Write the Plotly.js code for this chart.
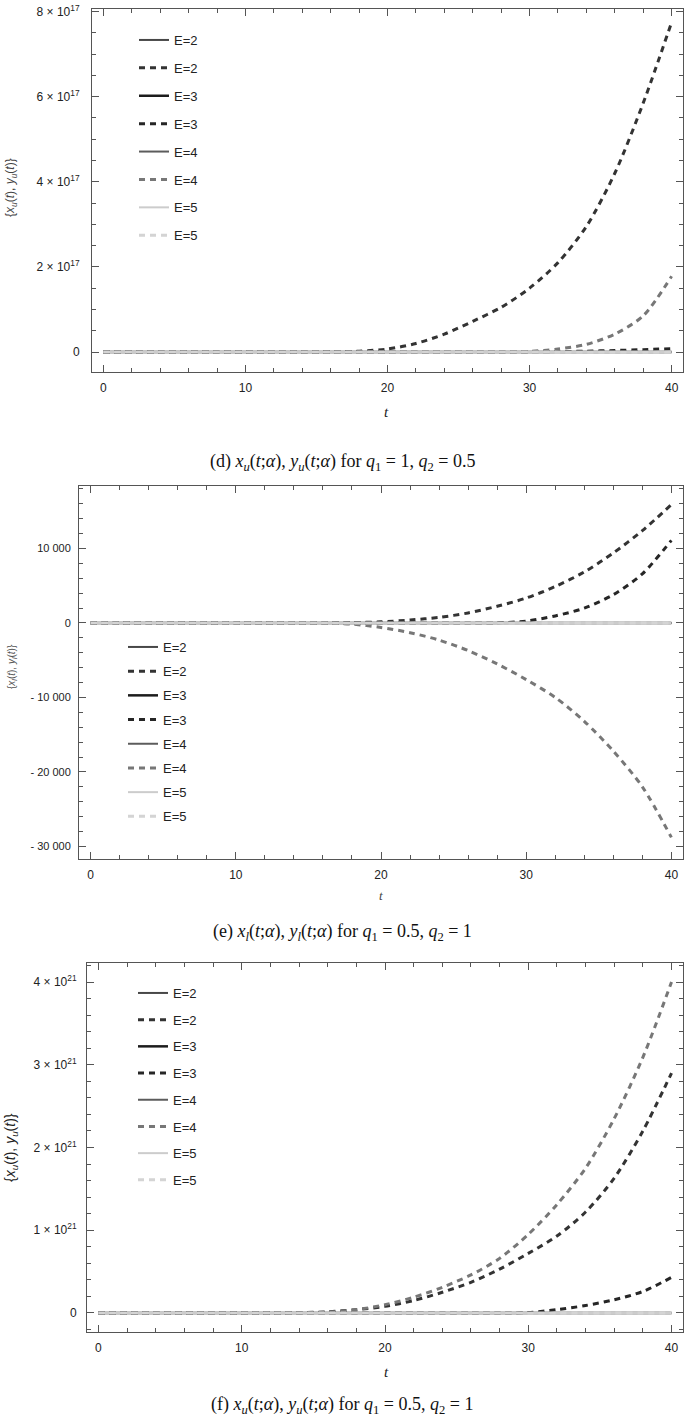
<!DOCTYPE html>
<html>
<head>
<meta charset="utf-8">
<script src="https://cdn.plot.ly/plotly-3.0.1.min.js"></script>
<style>body{margin:0;background:#fff}</style>
</head>
<body>
<div id="graph-container" style="width:685px;height:1417px"></div>
<script>
// time samples (t axis)
const tValues = [0, 2, 4, 6, 8, 10, 12, 14, 16, 18, 20, 22, 24, 26, 28, 30, 32, 34, 36, 38, 40];
const zeroLine = [0, 0, 0, 0, 0, 0, 0, 0, 0, 0, 0, 0, 0, 0, 0, 0, 0, 0, 0, 0, 0];

// (d) values in units of 1e17
const dE2dash = [0, 0, 0, 0, 0, 0, 0, 0, 0.005, 0.02, 0.07, 0.2, 0.42, 0.72, 1.05, 1.5, 2.1, 2.95, 4.2, 5.85, 7.75];
const dE3dash = [0, 0, 0, 0, 0, 0, 0, 0, 0, 0, 0, 0, 0, 0, 0, 0.003, 0.01, 0.02, 0.035, 0.055, 0.08];
const dE4dash = [0, 0, 0, 0, 0, 0, 0, 0, 0, 0, 0, 0, 0, 0, 0, 0.015, 0.07, 0.18, 0.42, 0.85, 1.78];

// (e) values
const eE2dash = [0, 0, 0, 0, 0, 0, 0, 0, 0, 60, 150, 400, 750, 1350, 2250, 3350, 4900, 6850, 9400, 12400, 15900];
const eE3dash = [0, 0, 0, 0, 0, 0, 0, 0, 0, 0, 0, 0, 0, 0, 20, 250, 950, 2000, 3800, 6600, 11100];
const eE4dash = [0, 0, 0, 0, 0, 0, 0, 0, 0, -150, -600, -1300, -2300, -3700, -5500, -7600, -10000, -13200, -17200, -22000, -28800];

// (f) values in units of 1e21
const fE2dash = [0, 0, 0, 0, 0, 0, 0, 0.003, 0.015, 0.04, 0.08, 0.15, 0.25, 0.37, 0.53, 0.72, 0.93, 1.22, 1.63, 2.2, 2.9];
const fE3dash = [0, 0, 0, 0, 0, 0, 0, 0, 0, 0, 0, 0, 0, 0, 0, 0.005, 0.04, 0.09, 0.16, 0.26, 0.43];
const fE4dash = [0, 0, 0, 0, 0, 0, 0, 0, 0.01, 0.04, 0.1, 0.19, 0.31, 0.46, 0.66, 0.95, 1.31, 1.75, 2.35, 3.09, 4.0];

// legend entries, shared by all three panels
const seriesNames = ['E=2', 'E=2', 'E=3', 'E=3', 'E=4', 'E=4', 'E=5', 'E=5'];
const seriesColors = ['#474747', '#333333', '#1c1c1c', '#262626', '#5c5c5c', '#777777', '#cccccc', '#d4d4d4'];
const seriesDashed = [false, true, false, true, false, true, false, true];

// tick labels
const dTickVals = [0, 2, 4, 6, 8];
const dTickText = ['0', '2 × 10<sup>17</sup>', '4 × 10<sup>17</sup>', '6 × 10<sup>17</sup>', '8 × 10<sup>17</sup>'];
const eTickVals = [-30000, -20000, -10000, 0, 10000];
const eTickText = ['- 30 000', '- 20 000', '- 10 000', '0', '10 000'];
const fTickVals = [0, 1, 2, 3, 4];
const fTickText = ['0', '1 × 10<sup>21</sup>', '2 × 10<sup>21</sup>', '3 × 10<sup>21</sup>', '4 × 10<sup>21</sup>'];
const xTickVals = [0, 10, 20, 30, 40];

const W = 685, H = 1417;
const px = x => x / W;
const py = y => 1 - y / H;

const panels = [
    { id: '', legend: 'legend', series: [zeroLine, dE2dash, zeroLine, dE3dash, zeroLine, dE4dash, zeroLine, zeroLine] },
    { id: '2', legend: 'legend2', series: [zeroLine, eE2dash, zeroLine, eE3dash, zeroLine, eE4dash, zeroLine, zeroLine] },
    { id: '3', legend: 'legend3', series: [zeroLine, fE2dash, zeroLine, fE3dash, zeroLine, fE4dash, zeroLine, zeroLine] }
];

const traces = [];
panels.forEach((panel, p) => {
    panel.series.forEach((ys, i) => {
        traces.push({
            x: tValues,
            y: ys,
            type: 'scatter',
            mode: 'lines',
            name: seriesNames[i],
            xaxis: 'x' + panel.id,
            yaxis: 'y' + panel.id,
            legend: panel.legend,
            legendgroup: 'p' + p + 's' + i,
            line: {
                color: seriesColors[i],
                width: seriesDashed[i] ? 3 : (i === 2 ? 2.5 : 2),
                dash: seriesDashed[i] ? '6px,5px' : 'solid',
                shape: 'spline',
                smoothing: 0.8
            },
            hoverinfo: 'skip'
        });
    });
});

const tickFont = { family: 'Liberation Sans, Arial, sans-serif', size: 12, color: '#222' };

function frameAxis(extra) {
    return Object.assign({
        showline: true,
        linecolor: '#555',
        linewidth: 1,
        mirror: 'ticks',
        ticks: 'inside',
        ticklen: 7,
        tickwidth: 1,
        tickcolor: '#555',
        showgrid: false,
        zeroline: false,
        tickfont: tickFont,
        fixedrange: true
    }, extra);
}

function xAxis(domain, anchor) {
    return frameAxis({
        domain: domain,
        anchor: anchor,
        range: [-0.8, 40.8],
        tickmode: 'array',
        tickvals: xTickVals,
        ticklabelstandoff: 5,
        minor: { tickmode: 'linear', tick0: 0, dtick: 2, ticks: 'inside', ticklen: 4, tickcolor: '#555', showgrid: false }
    });
}

function yAxis(domain, anchor, range, vals, text, minorStep, size, standoff) {
    return frameAxis({
        domain: domain,
        anchor: anchor,
        range: range,
        tickmode: 'array',
        tickvals: vals,
        ticktext: text,
        ticklabelstandoff: standoff,
        tickfont: Object.assign({}, tickFont, { size: size }),
        minor: { tickmode: 'linear', tick0: 0, dtick: minorStep, ticks: 'inside', ticklen: 4, tickcolor: '#555', showgrid: false }
    });
}

function legendBox(x, y, gap) {
    return {
        x: px(x),
        y: py(y),
        xanchor: 'left',
        yanchor: 'top',
        bgcolor: 'rgba(0,0,0,0)',
        borderwidth: 0,
        traceorder: 'grouped',
        tracegroupgap: gap,
        font: { family: 'Liberation Sans, Arial, sans-serif', size: 13, color: '#222' },
        itemclick: false,
        itemdoubleclick: false
    };
}

const serif = 'Liberation Serif, Times New Roman, serif';
const sans = 'Liberation Sans, Arial, sans-serif';

function note(text, x, y, font, angle) {
    return {
        text: text,
        x: px(x), y: py(y),
        xref: 'paper', yref: 'paper',
        xanchor: 'center', yanchor: 'middle',
        showarrow: false,
        textangle: angle || 0,
        font: font
    };
}

const layout = {
    width: W,
    height: H,
    margin: { l: 0, r: 0, t: 0, b: 0 },
    paper_bgcolor: 'white',
    plot_bgcolor: 'white',
    showlegend: true,
    xaxis: xAxis([px(92), px(683)], 'y'),
    yaxis: yAxis([py(372), py(9)], 'x', [-0.47, 8.06], dTickVals, dTickText, 0.5, 12, 9),
    xaxis2: xAxis([px(79), px(683)], 'y2'),
    yaxis2: yAxis([py(859), py(486)], 'x2', [-31700, 18400], eTickVals, eTickText, 2000, 11, 5),
    xaxis3: xAxis([px(87), px(683)], 'y3'),
    yaxis3: yAxis([py(1332), py(963)], 'x3', [-0.23, 4.23], fTickVals, fTickText, 0.2, 12, 7),
    legend: legendBox(134, 25, 8),
    legend2: legendBox(123, 632, 4.3),
    legend3: legendBox(133, 978, 6.8),
    annotations: [
        note('{<i>x<sub>u</sub></i>(<i>t</i>), <i>y<sub>u</sub></i>(<i>t</i>)}', 11, 188, { family: sans, size: 12, color: '#444' }, -90),
        note('{<i>x<sub>l</sub></i>(<i>t</i>), <i>y<sub>l</sub></i>(<i>t</i>)}', 12, 667, { family: sans, size: 10, color: '#555' }, -90),
        note('{<i>x<sub>u</sub></i>(<i>t</i>), <i>y<sub>u</sub></i>(<i>t</i>)}', 11, 1148, { family: sans, size: 14, color: '#222' }, -90),
        note('<i>t</i>', 387, 412, { family: serif, size: 15, color: '#222' }),
        note('<i>t</i>', 381, 895, { family: serif, size: 13, color: '#444' }),
        note('<i>t</i>', 386, 1372, { family: serif, size: 15, color: '#222' }),
        note('(d) <i>x<sub>u</sub></i>(<i>t</i>;<i>α</i>), <i>y<sub>u</sub></i>(<i>t</i>;<i>α</i>) for <i>q</i><sub>1</sub> = 1, <i>q</i><sub>2</sub> = 0.5', 342, 462, { family: serif, size: 18, color: '#111' }),
        note('(e) <i>x<sub>l</sub></i>(<i>t</i>;<i>α</i>), <i>y<sub>l</sub></i>(<i>t</i>;<i>α</i>) for <i>q</i><sub>1</sub> = 0.5, <i>q</i><sub>2</sub> = 1', 342, 932, { family: serif, size: 18, color: '#111' }),
        note('(f) <i>x<sub>u</sub></i>(<i>t</i>;<i>α</i>), <i>y<sub>u</sub></i>(<i>t</i>;<i>α</i>) for <i>q</i><sub>1</sub> = 0.5, <i>q</i><sub>2</sub> = 1', 342, 1405, { family: serif, size: 18, color: '#111' })
    ]
};

Plotly.newPlot('graph-container', traces, layout, { staticPlot: true, displayModeBar: false });
</script>
</body>
</html>
